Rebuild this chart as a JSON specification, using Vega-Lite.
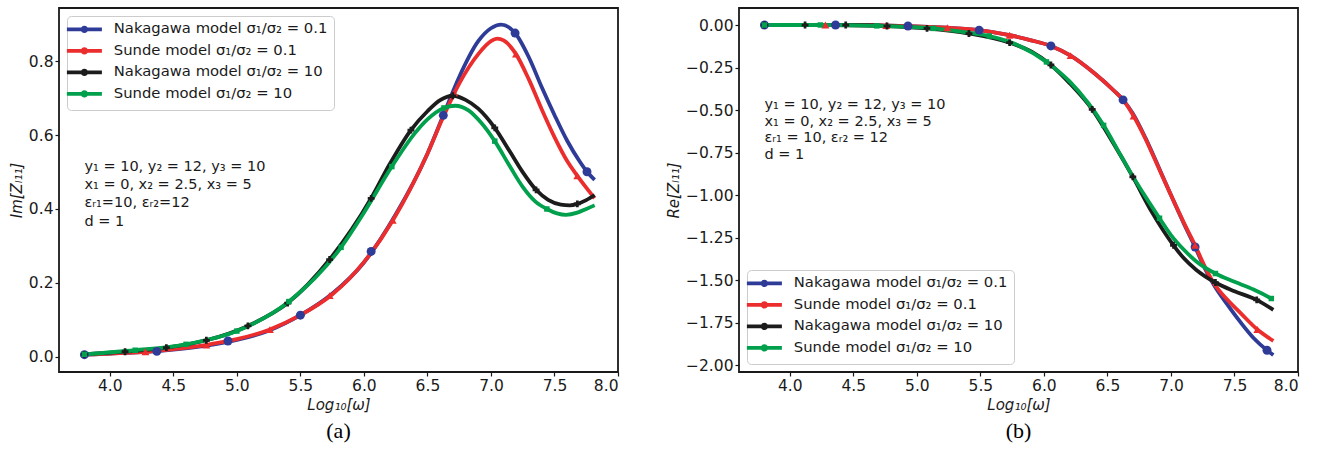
{
  "$schema": "https://vega.github.io/schema/vega-lite/v6.json",
  "background": "white",
  "padding": {"left": 8, "top": 7, "right": 5, "bottom": 0},
  "config": {
    "font": "DejaVu Sans",
    "view": {"stroke": "#1a1a1a", "strokeWidth": 1.8},
    "axis": {"grid": false, "domain": false, "tickColor": "#1a1a1a", "tickSize": 4, "tickWidth": 1.2, "labelFont": "DejaVu Sans", "labelFontSize": 15.5, "labelColor": "#1a1a1a", "labelPadding": 2, "titleFont": "DejaVu Sans", "titleFontSize": 15, "titleFontWeight": "normal", "titleFontStyle": "italic", "titleColor": "#1a1a1a", "titlePadding": 4},
    "title": {"font": "Liberation Serif", "fontSize": 22, "fontWeight": "normal", "color": "#000000", "orient": "bottom", "offset": 8}
  },
  "datasets": {
    "curves": [
      {"p":"a","s":"N1","x":3.8,"y":0.005},{"p":"a","s":"N1","x":4.0,"y":0.008},{"p":"a","s":"N1","x":4.25,"y":0.012},{"p":"a","s":"N1","x":4.5,"y":0.019},{"p":"a","s":"N1","x":4.75,"y":0.029},{"p":"a","s":"N1","x":5.0,"y":0.045},{"p":"a","s":"N1","x":5.25,"y":0.07},{"p":"a","s":"N1","x":5.5,"y":0.112},{"p":"a","s":"N1","x":5.75,"y":0.17},{"p":"a","s":"N1","x":6.0,"y":0.255},{"p":"a","s":"N1","x":6.25,"y":0.385},{"p":"a","s":"N1","x":6.5,"y":0.55},{"p":"a","s":"N1","x":6.625,"y":0.654},{"p":"a","s":"N1","x":6.75,"y":0.758},{"p":"a","s":"N1","x":6.9,"y":0.855},{"p":"a","s":"N1","x":7.0,"y":0.89},{"p":"a","s":"N1","x":7.08,"y":0.9},{"p":"a","s":"N1","x":7.19,"y":0.877},{"p":"a","s":"N1","x":7.3,"y":0.81},{"p":"a","s":"N1","x":7.4,"y":0.73},{"p":"a","s":"N1","x":7.5,"y":0.655},{"p":"a","s":"N1","x":7.6,"y":0.585},{"p":"a","s":"N1","x":7.7,"y":0.528},{"p":"a","s":"N1","x":7.756,"y":0.501},{"p":"a","s":"N1","x":7.816,"y":0.479},
      {"p":"a","s":"S1","x":3.8,"y":0.005},{"p":"a","s":"S1","x":4.0,"y":0.008},{"p":"a","s":"S1","x":4.25,"y":0.012},{"p":"a","s":"S1","x":4.5,"y":0.02},{"p":"a","s":"S1","x":4.75,"y":0.031},{"p":"a","s":"S1","x":5.0,"y":0.047},{"p":"a","s":"S1","x":5.25,"y":0.072},{"p":"a","s":"S1","x":5.5,"y":0.112},{"p":"a","s":"S1","x":5.75,"y":0.168},{"p":"a","s":"S1","x":6.0,"y":0.256},{"p":"a","s":"S1","x":6.227,"y":0.369},{"p":"a","s":"S1","x":6.5,"y":0.55},{"p":"a","s":"S1","x":6.625,"y":0.65},{"p":"a","s":"S1","x":6.75,"y":0.74},{"p":"a","s":"S1","x":6.9,"y":0.82},{"p":"a","s":"S1","x":7.0,"y":0.855},{"p":"a","s":"S1","x":7.05,"y":0.862},{"p":"a","s":"S1","x":7.1,"y":0.857},{"p":"a","s":"S1","x":7.197,"y":0.82},{"p":"a","s":"S1","x":7.3,"y":0.75},{"p":"a","s":"S1","x":7.4,"y":0.67},{"p":"a","s":"S1","x":7.5,"y":0.595},{"p":"a","s":"S1","x":7.6,"y":0.53},{"p":"a","s":"S1","x":7.68,"y":0.49},{"p":"a","s":"S1","x":7.75,"y":0.458},{"p":"a","s":"S1","x":7.816,"y":0.429},
      {"p":"a","s":"N10","x":3.8,"y":0.006},{"p":"a","s":"N10","x":4.12,"y":0.013},{"p":"a","s":"N10","x":4.445,"y":0.024},{"p":"a","s":"N10","x":4.76,"y":0.044},{"p":"a","s":"N10","x":5.087,"y":0.083},{"p":"a","s":"N10","x":5.4,"y":0.145},{"p":"a","s":"N10","x":5.73,"y":0.263},{"p":"a","s":"N10","x":6.057,"y":0.429},{"p":"a","s":"N10","x":6.2,"y":0.52},{"p":"a","s":"N10","x":6.37,"y":0.614},{"p":"a","s":"N10","x":6.5,"y":0.665},{"p":"a","s":"N10","x":6.6,"y":0.695},{"p":"a","s":"N10","x":6.7,"y":0.707},{"p":"a","s":"N10","x":6.8,"y":0.696},{"p":"a","s":"N10","x":6.9,"y":0.672},{"p":"a","s":"N10","x":7.03,"y":0.62},{"p":"a","s":"N10","x":7.15,"y":0.555},{"p":"a","s":"N10","x":7.25,"y":0.5},{"p":"a","s":"N10","x":7.355,"y":0.452},{"p":"a","s":"N10","x":7.45,"y":0.425},{"p":"a","s":"N10","x":7.55,"y":0.412},{"p":"a","s":"N10","x":7.62,"y":0.41},{"p":"a","s":"N10","x":7.68,"y":0.414},{"p":"a","s":"N10","x":7.75,"y":0.424},{"p":"a","s":"N10","x":7.816,"y":0.438},
      {"p":"a","s":"S10","x":3.8,"y":0.006},{"p":"a","s":"S10","x":4.2,"y":0.017},{"p":"a","s":"S10","x":4.6,"y":0.033},{"p":"a","s":"S10","x":5.0,"y":0.069},{"p":"a","s":"S10","x":5.41,"y":0.149},{"p":"a","s":"S10","x":5.82,"y":0.296},{"p":"a","s":"S10","x":6.0,"y":0.39},{"p":"a","s":"S10","x":6.22,"y":0.515},{"p":"a","s":"S10","x":6.4,"y":0.605},{"p":"a","s":"S10","x":6.5,"y":0.643},{"p":"a","s":"S10","x":6.63,"y":0.674},{"p":"a","s":"S10","x":6.72,"y":0.68},{"p":"a","s":"S10","x":6.82,"y":0.668},{"p":"a","s":"S10","x":6.92,"y":0.635},{"p":"a","s":"S10","x":7.03,"y":0.584},{"p":"a","s":"S10","x":7.15,"y":0.515},{"p":"a","s":"S10","x":7.25,"y":0.46},{"p":"a","s":"S10","x":7.35,"y":0.42},{"p":"a","s":"S10","x":7.44,"y":0.4},{"p":"a","s":"S10","x":7.52,"y":0.388},{"p":"a","s":"S10","x":7.59,"y":0.384},{"p":"a","s":"S10","x":7.68,"y":0.39},{"p":"a","s":"S10","x":7.75,"y":0.4},{"p":"a","s":"S10","x":7.816,"y":0.41},
      {"p":"b","s":"N1","x":3.8,"y":0},{"p":"b","s":"N1","x":4.36,"y":0},{"p":"b","s":"N1","x":4.93,"y":-0.006},{"p":"b","s":"N1","x":5.24,"y":-0.016},{"p":"b","s":"N1","x":5.49,"y":-0.03},{"p":"b","s":"N1","x":5.73,"y":-0.06},{"p":"b","s":"N1","x":5.9,"y":-0.09},{"p":"b","s":"N1","x":6.055,"y":-0.123},{"p":"b","s":"N1","x":6.21,"y":-0.18},{"p":"b","s":"N1","x":6.4,"y":-0.285},{"p":"b","s":"N1","x":6.55,"y":-0.385},{"p":"b","s":"N1","x":6.623,"y":-0.44},{"p":"b","s":"N1","x":6.7,"y":-0.52},{"p":"b","s":"N1","x":6.8,"y":-0.665},{"p":"b","s":"N1","x":6.9,"y":-0.83},{"p":"b","s":"N1","x":7.0,"y":-1.0},{"p":"b","s":"N1","x":7.1,"y":-1.165},{"p":"b","s":"N1","x":7.19,"y":-1.305},{"p":"b","s":"N1","x":7.26,"y":-1.42},{"p":"b","s":"N1","x":7.335,"y":-1.525},{"p":"b","s":"N1","x":7.45,"y":-1.65},{"p":"b","s":"N1","x":7.55,"y":-1.75},{"p":"b","s":"N1","x":7.65,"y":-1.84},{"p":"b","s":"N1","x":7.756,"y":-1.912},{"p":"b","s":"N1","x":7.806,"y":-1.94},
      {"p":"b","s":"S1","x":3.8,"y":0},{"p":"b","s":"S1","x":4.36,"y":0},{"p":"b","s":"S1","x":4.93,"y":-0.006},{"p":"b","s":"S1","x":5.24,"y":-0.016},{"p":"b","s":"S1","x":5.49,"y":-0.03},{"p":"b","s":"S1","x":5.73,"y":-0.06},{"p":"b","s":"S1","x":5.9,"y":-0.09},{"p":"b","s":"S1","x":6.055,"y":-0.123},{"p":"b","s":"S1","x":6.21,"y":-0.18},{"p":"b","s":"S1","x":6.4,"y":-0.285},{"p":"b","s":"S1","x":6.55,"y":-0.385},{"p":"b","s":"S1","x":6.623,"y":-0.44},{"p":"b","s":"S1","x":6.706,"y":-0.535},{"p":"b","s":"S1","x":6.8,"y":-0.67},{"p":"b","s":"S1","x":6.9,"y":-0.835},{"p":"b","s":"S1","x":7.0,"y":-1.0},{"p":"b","s":"S1","x":7.1,"y":-1.16},{"p":"b","s":"S1","x":7.19,"y":-1.295},{"p":"b","s":"S1","x":7.26,"y":-1.41},{"p":"b","s":"S1","x":7.335,"y":-1.515},{"p":"b","s":"S1","x":7.45,"y":-1.62},{"p":"b","s":"S1","x":7.55,"y":-1.695},{"p":"b","s":"S1","x":7.68,"y":-1.79},{"p":"b","s":"S1","x":7.806,"y":-1.857},
      {"p":"b","s":"N10","x":3.8,"y":0},{"p":"b","s":"N10","x":4.12,"y":0},{"p":"b","s":"N10","x":4.44,"y":0},{"p":"b","s":"N10","x":4.765,"y":-0.006},{"p":"b","s":"N10","x":5.08,"y":-0.02},{"p":"b","s":"N10","x":5.41,"y":-0.05},{"p":"b","s":"N10","x":5.73,"y":-0.104},{"p":"b","s":"N10","x":5.9,"y":-0.155},{"p":"b","s":"N10","x":6.055,"y":-0.235},{"p":"b","s":"N10","x":6.2,"y":-0.34},{"p":"b","s":"N10","x":6.38,"y":-0.496},{"p":"b","s":"N10","x":6.55,"y":-0.7},{"p":"b","s":"N10","x":6.7,"y":-0.893},{"p":"b","s":"N10","x":6.85,"y":-1.1},{"p":"b","s":"N10","x":7.02,"y":-1.295},{"p":"b","s":"N10","x":7.1,"y":-1.37},{"p":"b","s":"N10","x":7.2,"y":-1.44},{"p":"b","s":"N10","x":7.35,"y":-1.514},{"p":"b","s":"N10","x":7.5,"y":-1.565},{"p":"b","s":"N10","x":7.675,"y":-1.616},{"p":"b","s":"N10","x":7.806,"y":-1.675},
      {"p":"b","s":"S10","x":3.8,"y":0},{"p":"b","s":"S10","x":4.24,"y":0},{"p":"b","s":"S10","x":4.685,"y":-0.005},{"p":"b","s":"S10","x":5.13,"y":-0.02},{"p":"b","s":"S10","x":5.4,"y":-0.045},{"p":"b","s":"S10","x":5.57,"y":-0.065},{"p":"b","s":"S10","x":5.8,"y":-0.12},{"p":"b","s":"S10","x":6.02,"y":-0.217},{"p":"b","s":"S10","x":6.2,"y":-0.33},{"p":"b","s":"S10","x":6.35,"y":-0.46},{"p":"b","s":"S10","x":6.47,"y":-0.59},{"p":"b","s":"S10","x":6.6,"y":-0.76},{"p":"b","s":"S10","x":6.7,"y":-0.89},{"p":"b","s":"S10","x":6.8,"y":-1.01},{"p":"b","s":"S10","x":6.91,"y":-1.136},{"p":"b","s":"S10","x":7.0,"y":-1.235},{"p":"b","s":"S10","x":7.1,"y":-1.32},{"p":"b","s":"S10","x":7.2,"y":-1.39},{"p":"b","s":"S10","x":7.35,"y":-1.461},{"p":"b","s":"S10","x":7.5,"y":-1.51},{"p":"b","s":"S10","x":7.65,"y":-1.555},{"p":"b","s":"S10","x":7.79,"y":-1.608},{"p":"b","s":"S10","x":7.806,"y":-1.615}
    ],
    "marks": [
      {"p":"a","s":"N1","x":3.8,"y":0.005},{"p":"a","s":"N1","x":4.37,"y":0.014},{"p":"a","s":"N1","x":4.93,"y":0.042},{"p":"a","s":"N1","x":5.5,"y":0.112},{"p":"a","s":"N1","x":6.057,"y":0.285},{"p":"a","s":"N1","x":6.625,"y":0.654},{"p":"a","s":"N1","x":7.19,"y":0.877},{"p":"a","s":"N1","x":7.756,"y":0.501},
      {"p":"a","s":"S1","x":4.28,"y":0.013},{"p":"a","s":"S1","x":4.76,"y":0.031},{"p":"a","s":"S1","x":5.26,"y":0.073},{"p":"a","s":"S1","x":5.73,"y":0.165},{"p":"a","s":"S1","x":6.227,"y":0.369},{"p":"a","s":"S1","x":6.71,"y":0.715},{"p":"a","s":"S1","x":7.197,"y":0.82},{"p":"a","s":"S1","x":7.68,"y":0.49},
      {"p":"a","s":"N10","x":3.8,"y":0.006},{"p":"a","s":"N10","x":4.12,"y":0.013},{"p":"a","s":"N10","x":4.445,"y":0.024},{"p":"a","s":"N10","x":4.76,"y":0.044},{"p":"a","s":"N10","x":5.087,"y":0.083},{"p":"a","s":"N10","x":5.4,"y":0.145},{"p":"a","s":"N10","x":5.73,"y":0.263},{"p":"a","s":"N10","x":6.057,"y":0.429},{"p":"a","s":"N10","x":6.37,"y":0.614},{"p":"a","s":"N10","x":6.7,"y":0.707},{"p":"a","s":"N10","x":7.03,"y":0.62},{"p":"a","s":"N10","x":7.355,"y":0.452},{"p":"a","s":"N10","x":7.68,"y":0.414},
      {"p":"a","s":"S10","x":3.8,"y":0.006},{"p":"a","s":"S10","x":4.2,"y":0.017},{"p":"a","s":"S10","x":4.6,"y":0.033},{"p":"a","s":"S10","x":5.0,"y":0.069},{"p":"a","s":"S10","x":5.41,"y":0.149},{"p":"a","s":"S10","x":5.82,"y":0.296},{"p":"a","s":"S10","x":6.22,"y":0.515},{"p":"a","s":"S10","x":6.63,"y":0.674},{"p":"a","s":"S10","x":7.03,"y":0.584},{"p":"a","s":"S10","x":7.44,"y":0.4},
      {"p":"b","s":"N1","x":3.8,"y":0},{"p":"b","s":"N1","x":4.36,"y":0},{"p":"b","s":"N1","x":4.93,"y":-0.006},{"p":"b","s":"N1","x":5.49,"y":-0.03},{"p":"b","s":"N1","x":6.055,"y":-0.123},{"p":"b","s":"N1","x":6.623,"y":-0.44},{"p":"b","s":"N1","x":7.19,"y":-1.305},{"p":"b","s":"N1","x":7.756,"y":-1.912},
      {"p":"b","s":"S1","x":4.28,"y":0},{"p":"b","s":"S1","x":4.76,"y":-0.003},{"p":"b","s":"S1","x":5.24,"y":-0.016},{"p":"b","s":"S1","x":5.73,"y":-0.06},{"p":"b","s":"S1","x":6.21,"y":-0.18},{"p":"b","s":"S1","x":6.706,"y":-0.535},{"p":"b","s":"S1","x":7.19,"y":-1.295},{"p":"b","s":"S1","x":7.68,"y":-1.79},
      {"p":"b","s":"N10","x":3.8,"y":0},{"p":"b","s":"N10","x":4.12,"y":0},{"p":"b","s":"N10","x":4.44,"y":0},{"p":"b","s":"N10","x":4.765,"y":-0.006},{"p":"b","s":"N10","x":5.08,"y":-0.02},{"p":"b","s":"N10","x":5.41,"y":-0.05},{"p":"b","s":"N10","x":5.73,"y":-0.104},{"p":"b","s":"N10","x":6.055,"y":-0.235},{"p":"b","s":"N10","x":6.38,"y":-0.496},{"p":"b","s":"N10","x":6.7,"y":-0.893},{"p":"b","s":"N10","x":7.02,"y":-1.295},{"p":"b","s":"N10","x":7.35,"y":-1.514},{"p":"b","s":"N10","x":7.675,"y":-1.616},
      {"p":"b","s":"S10","x":3.8,"y":0},{"p":"b","s":"S10","x":4.24,"y":0},{"p":"b","s":"S10","x":4.685,"y":-0.005},{"p":"b","s":"S10","x":5.13,"y":-0.02},{"p":"b","s":"S10","x":5.57,"y":-0.065},{"p":"b","s":"S10","x":6.02,"y":-0.217},{"p":"b","s":"S10","x":6.47,"y":-0.59},{"p":"b","s":"S10","x":6.91,"y":-1.136},{"p":"b","s":"S10","x":7.35,"y":-1.461},{"p":"b","s":"S10","x":7.79,"y":-1.608}
    ],
    "notes": [
      {"p":"a","x":3.8,"y":0.514,"t":"y₁ = 10, y₂ = 12, y₃ = 10\nx₁ = 0, x₂ = 2.5, x₃ = 5\nεᵣ₁=10, εᵣ₂=12\nd = 1"},
      {"p":"b","x":3.8,"y":-0.47,"t":"y₁ = 10, y₂ = 12, y₃ = 10\nx₁ = 0, x₂ = 2.5, x₃ = 5\nεᵣ₁ = 10, εᵣ₂ = 12\nd = 1"}
    ]
  },
  "hconcat": [
    {
      "width": 559, "height": 364,
      "title": {"text": "(a)"},
      "layer": [
        {
          "data": {"name": "curves"},
          "transform": [{"filter": "datum.p == 'a'"}],
          "mark": {"type": "line", "interpolate": "monotone", "strokeWidth": 3.8, "clip": true},
          "encoding": {
            "x": {"field": "x", "type": "quantitative", "scale": {"domain": [3.6, 8.0], "nice": false, "zero": false}, "axis": {"values": [4, 4.5, 5, 5.5, 6, 6.5, 7, 7.5, 8], "format": ".1f", "title": "Log₁₀[ω]"}},
            "y": {"field": "y", "type": "quantitative", "scale": {"domain": [-0.042, 0.945], "nice": false, "zero": false}, "axis": {"values": [0, 0.2, 0.4, 0.6, 0.8], "format": ".1f", "title": "Im[Zₗ₁₁]"}},
            "color": {"field": "s", "type": "nominal", "scale": {"domain": ["N1", "S1", "N10", "S10"], "range": ["#2e3b97", "#ec2d2d", "#1c1c1c", "#00a04c"]},
              "legend": {"orient": "none", "legendX": 8, "legendY": 8, "title": null, "labelExpr": "{'N1':'Nakagawa model σ₁/σ₂ = 0.1','S1':'Sunde model σ₁/σ₂ = 0.1','N10':'Nakagawa model σ₁/σ₂ = 10','S10':'Sunde model σ₁/σ₂ = 10'}[datum.label]", "symbolType": "M-5,0H5M0.5,0A0.5,0.5,0,1,1,-0.5,0A0.5,0.5,0,1,1,0.5,0", "symbolSize": 49, "symbolStrokeWidth": 3.8, "symbolOffset": 4, "labelOffset": 22, "labelLimit": 400, "labelFont": "DejaVu Sans", "labelFontSize": 14.8, "labelColor": "#1a1a1a", "rowPadding": 2.5, "padding": 6, "strokeColor": "#cccccc", "fillColor": "rgba(255,255,255,0.85)", "cornerRadius": 4}}
          }
        },
        {
          "data": {"name": "marks"},
          "transform": [{"filter": "datum.p == 'a'"}],
          "mark": {"type": "point", "filled": true, "opacity": 1, "clip": true},
          "encoding": {
            "x": {"field": "x", "type": "quantitative"},
            "y": {"field": "y", "type": "quantitative"},
            "color": {"field": "s", "type": "nominal", "legend": null},
            "shape": {"field": "s", "type": "nominal", "scale": {"domain": ["N1", "S1", "N10", "S10"], "range": ["circle", "triangle-up", "cross", "square"]}, "legend": null},
            "size": {"field": "s", "type": "nominal", "scale": {"domain": ["N1", "S1", "N10", "S10"], "range": [80, 30, 75, 95]}, "legend": null}
          }
        },
        {
          "data": {"name": "notes"},
          "transform": [{"filter": "datum.p == 'a'"}],
          "mark": {"type": "text", "align": "left", "baseline": "middle", "fontSize": 14.5, "lineBreak": "\n", "lineHeight": 18.2, "color": "#1a1a1a", "font": "DejaVu Sans"},
          "encoding": {
            "x": {"field": "x", "type": "quantitative"},
            "y": {"field": "y", "type": "quantitative"},
            "text": {"field": "t"}
          }
        }
      ]
    },
    {
      "width": 559, "height": 364,
      "title": {"text": "(b)"},
      "layer": [
        {
          "data": {"name": "curves"},
          "transform": [{"filter": "datum.p == 'b'"}],
          "mark": {"type": "line", "interpolate": "monotone", "strokeWidth": 3.8, "clip": true},
          "encoding": {
            "x": {"field": "x", "type": "quantitative", "scale": {"domain": [3.6, 8.0], "nice": false, "zero": false}, "axis": {"values": [4, 4.5, 5, 5.5, 6, 6.5, 7, 7.5, 8], "format": ".1f", "title": "Log₁₀[ω]"}},
            "y": {"field": "y", "type": "quantitative", "scale": {"domain": [-2.04, 0.1], "nice": false, "zero": false}, "axis": {"values": [0, -0.25, -0.5, -0.75, -1, -1.25, -1.5, -1.75, -2], "format": ".2f", "title": "Re[Zₗ₁₁]"}},
            "color": {"field": "s", "type": "nominal", "scale": {"domain": ["N1", "S1", "N10", "S10"], "range": ["#2e3b97", "#ec2d2d", "#1c1c1c", "#00a04c"]},
              "legend": {"orient": "none", "legendX": 8, "legendY": 262, "title": null, "labelExpr": "{'N1':'Nakagawa model σ₁/σ₂ = 0.1','S1':'Sunde model σ₁/σ₂ = 0.1','N10':'Nakagawa model σ₁/σ₂ = 10','S10':'Sunde model σ₁/σ₂ = 10'}[datum.label]", "symbolType": "M-5,0H5M0.5,0A0.5,0.5,0,1,1,-0.5,0A0.5,0.5,0,1,1,0.5,0", "symbolSize": 49, "symbolStrokeWidth": 3.8, "symbolOffset": 4, "labelOffset": 22, "labelLimit": 400, "labelFont": "DejaVu Sans", "labelFontSize": 14.8, "labelColor": "#1a1a1a", "rowPadding": 2.5, "padding": 6, "strokeColor": "#cccccc", "fillColor": "rgba(255,255,255,0.85)", "cornerRadius": 4}}
          }
        },
        {
          "data": {"name": "marks"},
          "transform": [{"filter": "datum.p == 'b'"}],
          "mark": {"type": "point", "filled": true, "opacity": 1, "clip": true},
          "encoding": {
            "x": {"field": "x", "type": "quantitative"},
            "y": {"field": "y", "type": "quantitative"},
            "color": {"field": "s", "type": "nominal", "legend": null},
            "shape": {"field": "s", "type": "nominal", "scale": {"domain": ["N1", "S1", "N10", "S10"], "range": ["circle", "triangle-up", "cross", "square"]}, "legend": null},
            "size": {"field": "s", "type": "nominal", "scale": {"domain": ["N1", "S1", "N10", "S10"], "range": [80, 30, 75, 95]}, "legend": null}
          }
        },
        {
          "data": {"name": "notes"},
          "transform": [{"filter": "datum.p == 'b'"}],
          "mark": {"type": "text", "align": "left", "baseline": "middle", "fontSize": 14.5, "lineBreak": "\n", "lineHeight": 16.7, "color": "#1a1a1a", "font": "DejaVu Sans"},
          "encoding": {
            "x": {"field": "x", "type": "quantitative"},
            "y": {"field": "y", "type": "quantitative"},
            "text": {"field": "t"}
          }
        }
      ]
    }
  ],
  "spacing": 121,
  "bounds": "flush",
  "resolve": {"legend": {"color": "independent"}}
}
